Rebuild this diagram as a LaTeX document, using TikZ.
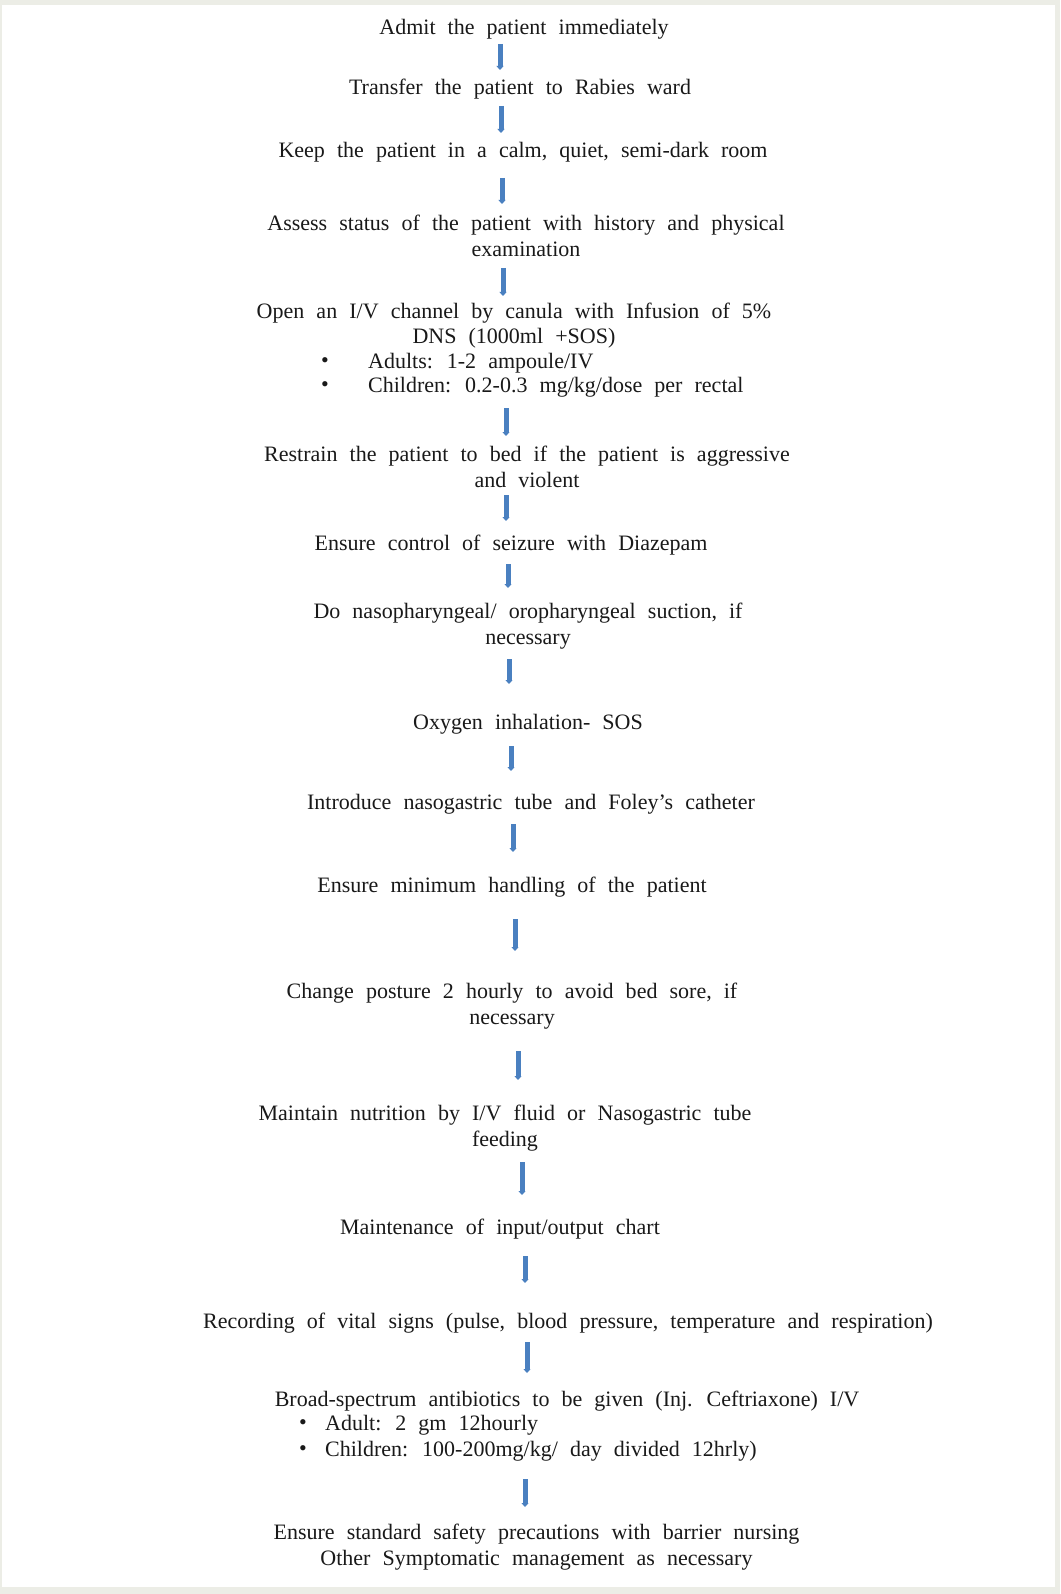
\documentclass[tikz,border=0pt]{standalone}
\usepackage{fontspec}
\setmainfont{Liberation Serif}
\usetikzlibrary{arrows.meta}
\definecolor{bordergray}{HTML}{ECEDE6}
\definecolor{arrblue}{HTML}{4A80C0}
\newcommand\flowfont{\fontsize{22}{25.5}\selectfont\spaceskip=0.55em plus 0.1em\relax}
\begin{document}
\begin{tikzpicture}[x=1pt,y=-1pt,
  txt/.style={font=\flowfont, align=center, inner sep=0pt, text=black!90},
  btxt/.style={txt, anchor=west},
  arr/.style={draw=arrblue, line width=5pt, -{Triangle[width=7pt,length=4pt]}}]
\fill[bordergray] (0,0) rectangle (1060,1594);
\fill[white] (2,5) rectangle (1055,1587);
\useasboundingbox (0,0) rectangle (1060,1594);

\node[txt] (n1) at (524,29) {Admit the patient immediately};
\node[txt] (n2) at (520,89) {Transfer the patient to Rabies ward};
\node[txt] (n3) at (523,152) {Keep the patient in a calm, quiet, semi-dark room};
\node[txt] (n4) at (526,236) {Assess status of the patient with history and physical\\examination};
\node[txt] (n5) at (514,325.5) {Open an I/V channel by canula with Infusion of 5\%\\DNS (1000ml +SOS)};
\node[txt] (b5a) at (325,363) {•};
\node[btxt] (t5a) at (368,363) {Adults: 1-2 ampoule/IV};
\node[txt] (b5b) at (325,387) {•};
\node[btxt] (t5b) at (368,387) {Children: 0.2-0.3 mg/kg/dose per rectal};
\node[txt] (n6) at (527,467) {Restrain the patient to bed if the patient is aggressive\\and violent};
\node[txt] (n7) at (511,545) {Ensure control of seizure with Diazepam};
\node[txt] (n8) at (528,626) {Do nasopharyngeal/ oropharyngeal suction, if\\necessary};
\node[txt] (n9) at (528,724) {Oxygen inhalation- SOS};
\node[txt] (n10) at (531,804) {Introduce nasogastric tube and Foley’s catheter};
\node[txt] (n11) at (512,887) {Ensure minimum handling of the patient};
\node[txt] (n12) at (512,1006) {Change posture 2 hourly to avoid bed sore, if\\necessary};
\node[txt] (n13) at (505,1128) {Maintain nutrition by I/V fluid or Nasogastric tube\\feeding};
\node[txt] (n14) at (500,1229) {Maintenance of input/output chart};
\node[txt] (n15) at (568,1323) {Recording of vital signs (pulse, blood pressure, temperature and respiration)};
\node[txt] (n16) at (567,1401) {Broad-spectrum antibiotics to be given (Inj. Ceftriaxone) I/V};
\node[txt] (b16a) at (303,1425) {•};
\node[btxt] (t16a) at (325,1425) {Adult: 2 gm 12hourly};
\node[txt] (b16b) at (303,1451) {•};
\node[btxt] (t16b) at (325,1451) {Children: 100-200mg/kg/ day divided 12hrly)};
\node[txt] (n17) at (536.5,1547) {Ensure standard safety precautions with barrier nursing\\Other Symptomatic management as necessary};

\coordinate (a1s) at (500,44);   \coordinate (a1e) at (500,70);
\coordinate (a2s) at (501,106);  \coordinate (a2e) at (501,133);
\coordinate (a3s) at (502,178);  \coordinate (a3e) at (502,204);
\coordinate (a4s) at (503,268);  \coordinate (a4e) at (503,296);
\coordinate (a5s) at (506,408);  \coordinate (a5e) at (506,436);
\coordinate (a6s) at (506,495);  \coordinate (a6e) at (506,521);
\coordinate (a7s) at (508,564);  \coordinate (a7e) at (508,588);
\coordinate (a8s) at (509,659);  \coordinate (a8e) at (509,684);
\coordinate (a9s) at (511,746);  \coordinate (a9e) at (511,771);
\coordinate (a10s) at (513,824); \coordinate (a10e) at (513,852);
\coordinate (a11s) at (515,919); \coordinate (a11e) at (515,951);
\coordinate (a12s) at (518,1051);\coordinate (a12e) at (518,1080);
\coordinate (a13s) at (522,1162);\coordinate (a13e) at (522,1195);
\coordinate (a14s) at (525,1256);\coordinate (a14e) at (525,1283);
\coordinate (a15s) at (527,1342);\coordinate (a15e) at (527,1373);
\coordinate (a16s) at (525,1479);\coordinate (a16e) at (525,1507);
\foreach \i in {1,...,16} {\draw[arr] (a\i s) -- (a\i e);}
\end{tikzpicture}
\end{document}
